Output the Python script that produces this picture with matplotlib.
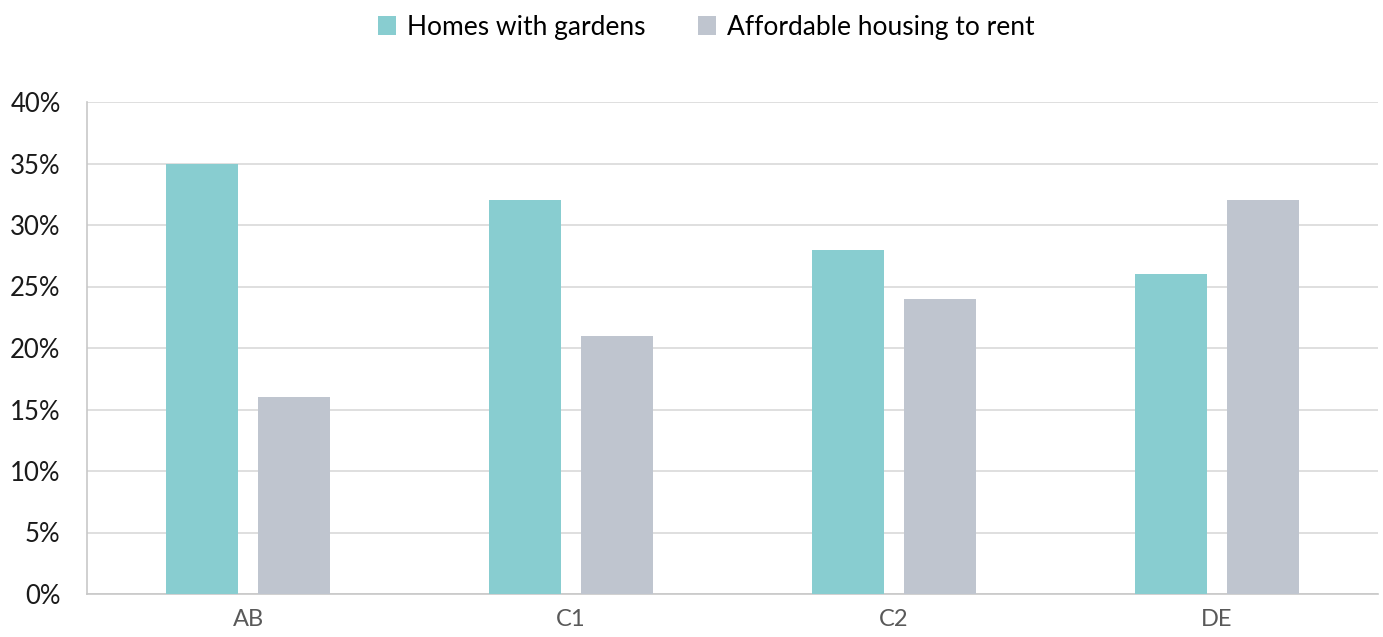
import matplotlib
matplotlib.use("Agg")
import matplotlib.pyplot as plt
import numpy as np

categories = ["AB", "C1", "C2", "DE"]
homes_with_gardens = [35, 32, 28, 26]
affordable_housing = [16, 21, 24, 32]
series_names = ["Homes with gardens", "Affordable housing to rent"]
yticks = [0, 5, 10, 15, 20, 25, 30, 35, 40]

plt.rcParams['font.family'] = ['Lato', 'DejaVu Sans']

fig = plt.figure(figsize=(13.83, 6.37), dpi=100)
ax = fig.add_axes([87/1383, 43/637, 1291/1383, 492/637])

x = np.arange(len(categories))
w = 0.223
off = 0.1425
b1 = ax.bar(x - off, homes_with_gardens, w, color="#88CDD0", label=series_names[0], zorder=3)
b2 = ax.bar(x + off, affordable_housing, w, color="#BFC5CF", label=series_names[1], zorder=3)

ax.set_xlim(-0.5, 3.5)
ax.set_ylim(0, 40)
ax.set_yticks(yticks)
ax.set_yticklabels([f"{v}%" for v in yticks], fontsize=18.5, color="#1a1a1a")
ax.set_xticks(x)
ax.set_xticklabels(categories, fontsize=17, color="#595959")
ax.tick_params(axis='both', length=0)
ax.tick_params(axis='y', pad=19)
ax.tick_params(axis='x', pad=11)
ax.grid(axis='y', color="#D9D9D9", linewidth=1.2, zorder=0)
for s in ["top", "right"]:
    ax.spines[s].set_visible(False)
for s in ["left", "bottom"]:
    ax.spines[s].set_color("#C8C8C8")
    ax.spines[s].set_linewidth(1.2)

fig.legend(handles=[b1, b2], labels=series_names, loc="center", bbox_to_anchor=(706/1383, 1 - 27/637),
           ncol=2, frameon=False, fontsize=19, handlelength=0.7, handleheight=0.7,
           handletextpad=0.4, columnspacing=2.0)

fig.savefig("out.png", dpi=100)
